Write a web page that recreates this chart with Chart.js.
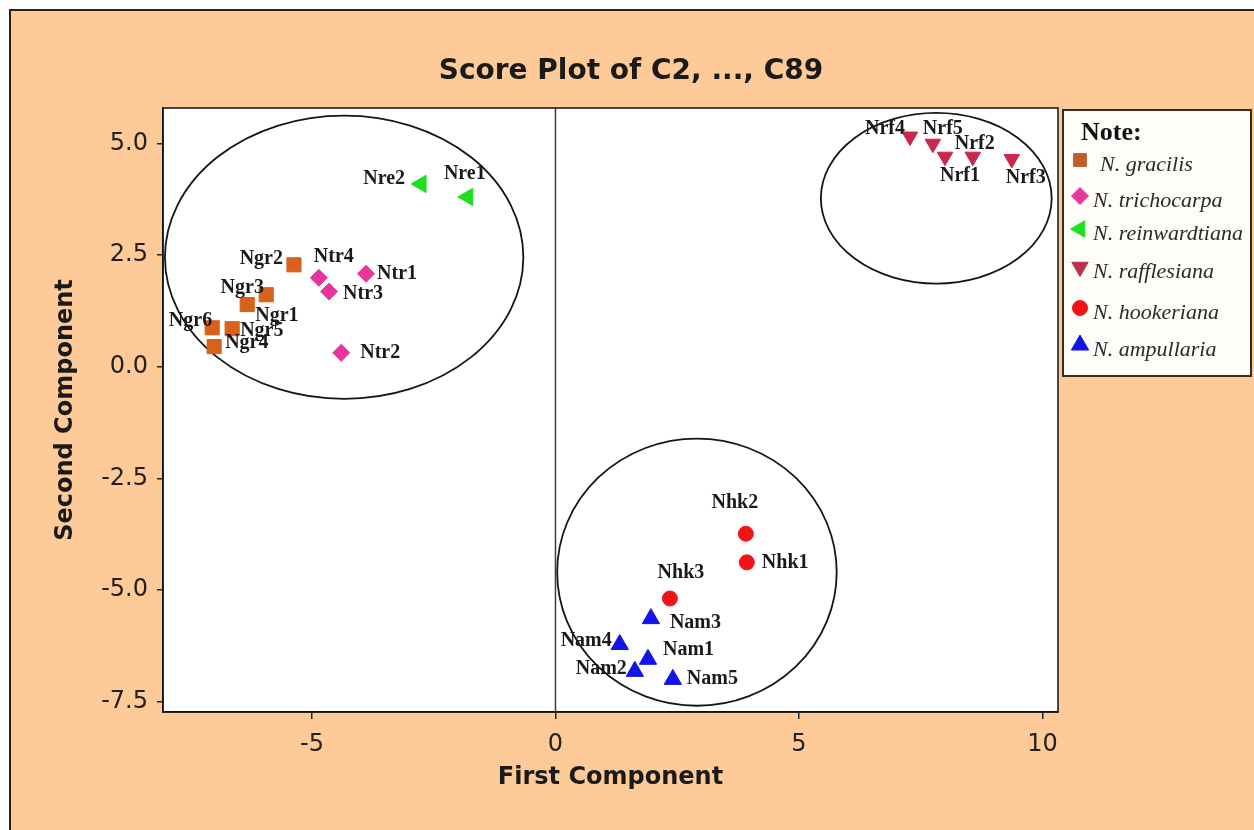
<!DOCTYPE html>
<html><head><meta charset="utf-8">
<script src="https://cdn.jsdelivr.net/npm/chart.js@4.4.1/dist/chart.umd.min.js"></script>
<style>html,body{margin:0;padding:0;background:#fff;overflow:hidden}canvas{display:block}</style>
</head><body>
<canvas id="c" width="1254" height="830"></canvas>
<script>
// ---------------- data ----------------
const speciesNames = ['N. gracilis','N. trichocarpa','N. reinwardtiana','N. rafflesiana','N. hookeriana','N. ampullaria'];

const gracilisLabels = ['Ngr1','Ngr2','Ngr3','Ngr4','Ngr5','Ngr6'];
const gracilisX = [-5.94,-5.37,-6.33,-7.01,-6.64,-7.05];
const gracilisY = [1.61,2.28,1.39,0.45,0.85,0.87];

const trichocarpaLabels = ['Ntr1','Ntr2','Ntr3','Ntr4'];
const trichocarpaX = [-3.89,-4.40,-4.65,-4.86];
const trichocarpaY = [2.08,0.31,1.68,1.99];

const reinwardtianaLabels = ['Nre1','Nre2'];
const reinwardtianaX = [-1.80,-2.76];
const reinwardtianaY = [3.80,4.09];

const rafflesianaLabels = ['Nrf1','Nrf2','Nrf3','Nrf4','Nrf5'];
const rafflesianaX = [8.00,8.57,9.37,7.28,7.75];
const rafflesianaY = [4.70,4.70,4.65,5.15,4.99];

const hookerianaLabels = ['Nhk1','Nhk2','Nhk3'];
const hookerianaX = [3.93,3.91,2.35];
const hookerianaY = [-4.38,-3.74,-5.19];

const ampullariaLabels = ['Nam1','Nam2','Nam3','Nam4','Nam5'];
const ampullariaX = [1.90,1.63,1.96,1.32,2.41];
const ampullariaY = [-6.55,-6.82,-5.64,-6.22,-7.00];

const xTicks = [-5,0,5,10];
const yTicks = [-7.5,-5,-2.5,0,2.5,5];

// group ellipses: centre and radii in data units
const ellipseCX = [-4.34, 7.82, 2.905];
const ellipseCY = [2.45, 3.77, -4.60];
const ellipseRX = [3.68, 2.37, 2.87];
const ellipseRY = [3.17, 1.91, 2.99];

// ---------------- layout / styles ----------------
const labelLayout = {
  Ngr1:['left',-11,21], Ngr2:['right',-11,-6], Ngr3:['center',-5,-17], Ngr4:['left',11,-4], Ngr5:['left',8,2], Ngr6:['right',0,-7],
  Ntr1:['left',11,0], Ntr2:['left',19,0], Ntr3:['left',14,2], Ntr4:['left',-5,-21],
  Nre1:['center',-3,-23], Nre2:['right',-16,-5],
  Nrf1:['left',-5,19], Nrf2:['center',2,-13], Nrf3:['left',-6,19], Nrf4:['right',-5,-8], Nrf5:['left',-10,-15],
  Nhk1:['left',15,0], Nhk2:['center',-11,-31], Nhk3:['center',11,-26],
  Nam1:['left',15,-9], Nam2:['right',-8,-3], Nam3:['left',19,4], Nam4:['right',-8,-4], Nam5:['left',14,-1]
};

const styles = [
  {color:'#d9621a', legendColor:'#c65a2c', pointStyle:'rect', rotation:0, radius:10, legendRadius:9},
  {color:'#e8359b', legendColor:'#e8359b', pointStyle:'rectRot', rotation:0, radius:8.5, legendRadius:8.5},
  {color:'#1ee01e', legendColor:'#1ee01e', pointStyle:'triangle', rotation:-90, radius:10, legendRadius:9.5},
  {color:'#c8284c', legendColor:'#b8324f', pointStyle:'triangle', rotation:180, radius:9, legendRadius:9.5},
  {color:'#f01414', legendColor:'#f01414', pointStyle:'circle', rotation:0, radius:7.5, legendRadius:7.5},
  {color:'#1414e6', legendColor:'#1414e6', pointStyle:'triangle', rotation:0, radius:10, legendRadius:10}
];

function pts(xs, ys, labels){ return xs.map((x,i)=>({x:x, y:ys[i], label:labels[i]})); }
const seriesData = [
  pts(gracilisX, gracilisY, gracilisLabels),
  pts(trichocarpaX, trichocarpaY, trichocarpaLabels),
  pts(reinwardtianaX, reinwardtianaY, reinwardtianaLabels),
  pts(rafflesianaX, rafflesianaY, rafflesianaLabels),
  pts(hookerianaX, hookerianaY, hookerianaLabels),
  pts(ampullariaX, ampullariaY, ampullariaLabels)
];

const datasets = seriesData.map((d,i)=>({
  label: speciesNames[i],
  data: d,
  pointStyle: styles[i].pointStyle,
  rotation: styles[i].rotation,
  pointRadius: styles[i].radius,
  pointHoverRadius: styles[i].radius,
  backgroundColor: styles[i].color,
  borderColor: styles[i].color,
  borderWidth: 1,
  showLine: false
}));

const legendRowY = [163, 199, 232, 270, 311, 348];

function drawMarker(ctx, st, r, x, y){
  ctx.save();
  ctx.fillStyle = st.legendColor; ctx.strokeStyle = st.legendColor; ctx.lineWidth = 1;
  if (Chart.helpers && Chart.helpers.drawPoint) {
    Chart.helpers.drawPoint(ctx, {pointStyle: st.pointStyle, rotation: st.rotation, radius: r, borderWidth: 1}, x, y);
  }
  ctx.restore();
}

const decor = {
  id:'decor',
  beforeDraw(chart){
    const ctx = chart.ctx, a = chart.chartArea;
    ctx.save();
    ctx.fillStyle = '#ffffff'; ctx.fillRect(0,0,chart.width,chart.height);
    ctx.fillStyle = '#fdca98'; ctx.fillRect(10,10,chart.width,chart.height);
    ctx.strokeStyle = '#2b2118'; ctx.lineWidth = 2;
    ctx.beginPath(); ctx.moveTo(10,chart.height); ctx.lineTo(10,10); ctx.lineTo(chart.width,10); ctx.stroke();
    ctx.fillStyle = '#ffffff'; ctx.fillRect(a.left,a.top,a.right-a.left,a.bottom-a.top);
    ctx.restore();
  },
  beforeDatasetsDraw(chart){
    const ctx = chart.ctx, a = chart.chartArea, xs = chart.scales.x, ys = chart.scales.y;
    ctx.save();
    const x0 = xs.getPixelForValue(0);
    ctx.strokeStyle = '#3c3c3c'; ctx.lineWidth = 1.5;
    ctx.beginPath(); ctx.moveTo(x0,a.top); ctx.lineTo(x0,a.bottom); ctx.stroke();
    ctx.strokeStyle = '#151515'; ctx.lineWidth = 1.8;
    for (let i=0;i<ellipseCX.length;i++){
      const cx = xs.getPixelForValue(ellipseCX[i]), cy = ys.getPixelForValue(ellipseCY[i]);
      const rx = Math.abs(xs.getPixelForValue(ellipseCX[i]+ellipseRX[i]) - cx);
      const ry = Math.abs(ys.getPixelForValue(ellipseCY[i]+ellipseRY[i]) - cy);
      ctx.beginPath(); ctx.ellipse(cx,cy,rx,ry,0,0,Math.PI*2); ctx.stroke();
    }
    ctx.restore();
  },
  afterDatasetsDraw(chart){
    const ctx = chart.ctx;
    ctx.save();
    ctx.font = 'bold 20px "Liberation Serif", "Times New Roman", serif';
    ctx.fillStyle = '#1a1a1a';
    ctx.textBaseline = 'middle';
    chart.data.datasets.forEach((ds, di)=>{
      const meta = chart.getDatasetMeta(di);
      meta.data.forEach((el, i)=>{
        const lab = ds.data[i].label;
        const L = labelLayout[lab] || ['left',10,0];
        ctx.textAlign = L[0];
        ctx.fillText(lab, el.x + L[1], el.y + L[2]);
      });
    });
    ctx.restore();
  },
  afterDraw(chart){
    const ctx = chart.ctx, a = chart.chartArea;
    ctx.save();
    // plot frame
    ctx.strokeStyle = '#111'; ctx.lineWidth = 1.5;
    ctx.strokeRect(a.left, a.top, a.right-a.left, a.bottom-a.top);
    // title
    ctx.fillStyle = '#1a1a1a';
    ctx.font = 'bold 28px "DejaVu Sans", Verdana, sans-serif';
    ctx.textAlign = 'center'; ctx.textBaseline = 'alphabetic';
    ctx.fillText('Score Plot of C2, ..., C89', 631, 79);
    // legend
    ctx.fillStyle = '#fffdf9';
    ctx.fillRect(1063, 110, 188, 266);
    ctx.strokeStyle = '#3a2a20'; ctx.lineWidth = 2;
    ctx.strokeRect(1063, 110, 188, 266);
    ctx.fillStyle = '#111';
    ctx.font = 'bold 26px "Liberation Serif", "Times New Roman", serif';
    ctx.textAlign = 'left'; ctx.textBaseline = 'middle';
    ctx.fillText('Note:', 1081, 133);
    ctx.font = 'italic 22px "Liberation Serif", "Times New Roman", serif';
    speciesNames.forEach((name, i)=>{
      const yy = legendRowY[i];
      drawMarker(ctx, styles[i], styles[i].legendRadius, 1080, yy - 3);
      ctx.fillStyle = '#2a2a2a';
      ctx.fillText(name, i === 0 ? 1100 : 1093, yy + 2);
    });
    ctx.restore();
  }
};

new Chart(document.getElementById('c'), {
  type: 'scatter',
  data: { datasets: datasets },
  options: {
    responsive: false,
    animation: false,
    devicePixelRatio: 1,
    events: [],
    layout: { padding: { top: 108, right: 196, left: 43, bottom: 18 } },
    plugins: { legend: { display: false }, tooltip: { enabled: false }, title: { display: false } },
    scales: {
      x: {
        type: 'linear', position: 'bottom', min: -8.06, max: 10.32,
        afterFit: s => { s.height = 100; },
        afterBuildTicks: s => { s.ticks = xTicks.map(v => ({value: v})); },
        ticks: { includeBounds: false, padding: 11, color: '#222', font: { family: '"DejaVu Sans", Verdana, sans-serif', size: 24 }, callback: v => String(v) },
        grid: { drawOnChartArea: false, drawTicks: true, tickLength: 7, color: '#222', lineWidth: 1.5 },
        border: { display: true, color: '#111', width: 1.5 },
        title: { display: true, text: 'First Component', color: '#1a1a1a', padding: { top: 0, bottom: 19.6 }, font: { family: '"DejaVu Sans", Verdana, sans-serif', size: 24, weight: 'bold' } }
      },
      y: {
        type: 'linear', position: 'left', min: -7.73, max: 5.79,
        afterFit: s => { s.width = 120; },
        afterBuildTicks: s => { s.ticks = yTicks.map(v => ({value: v})); },
        ticks: { includeBounds: false, padding: 9, color: '#222', font: { family: '"DejaVu Sans", Verdana, sans-serif', size: 24 }, callback: v => Number(v).toFixed(1) },
        grid: { drawOnChartArea: false, drawTicks: true, tickLength: 6, color: '#222', lineWidth: 1.5 },
        border: { display: true, color: '#111', width: 1.5 },
        title: { display: true, text: 'Second Component', color: '#1a1a1a', padding: { top: 8, bottom: 0 }, font: { family: '"DejaVu Sans", Verdana, sans-serif', size: 24, weight: 'bold' } }
      }
    }
  },
  plugins: [decor]
});
</script>
</body></html>
